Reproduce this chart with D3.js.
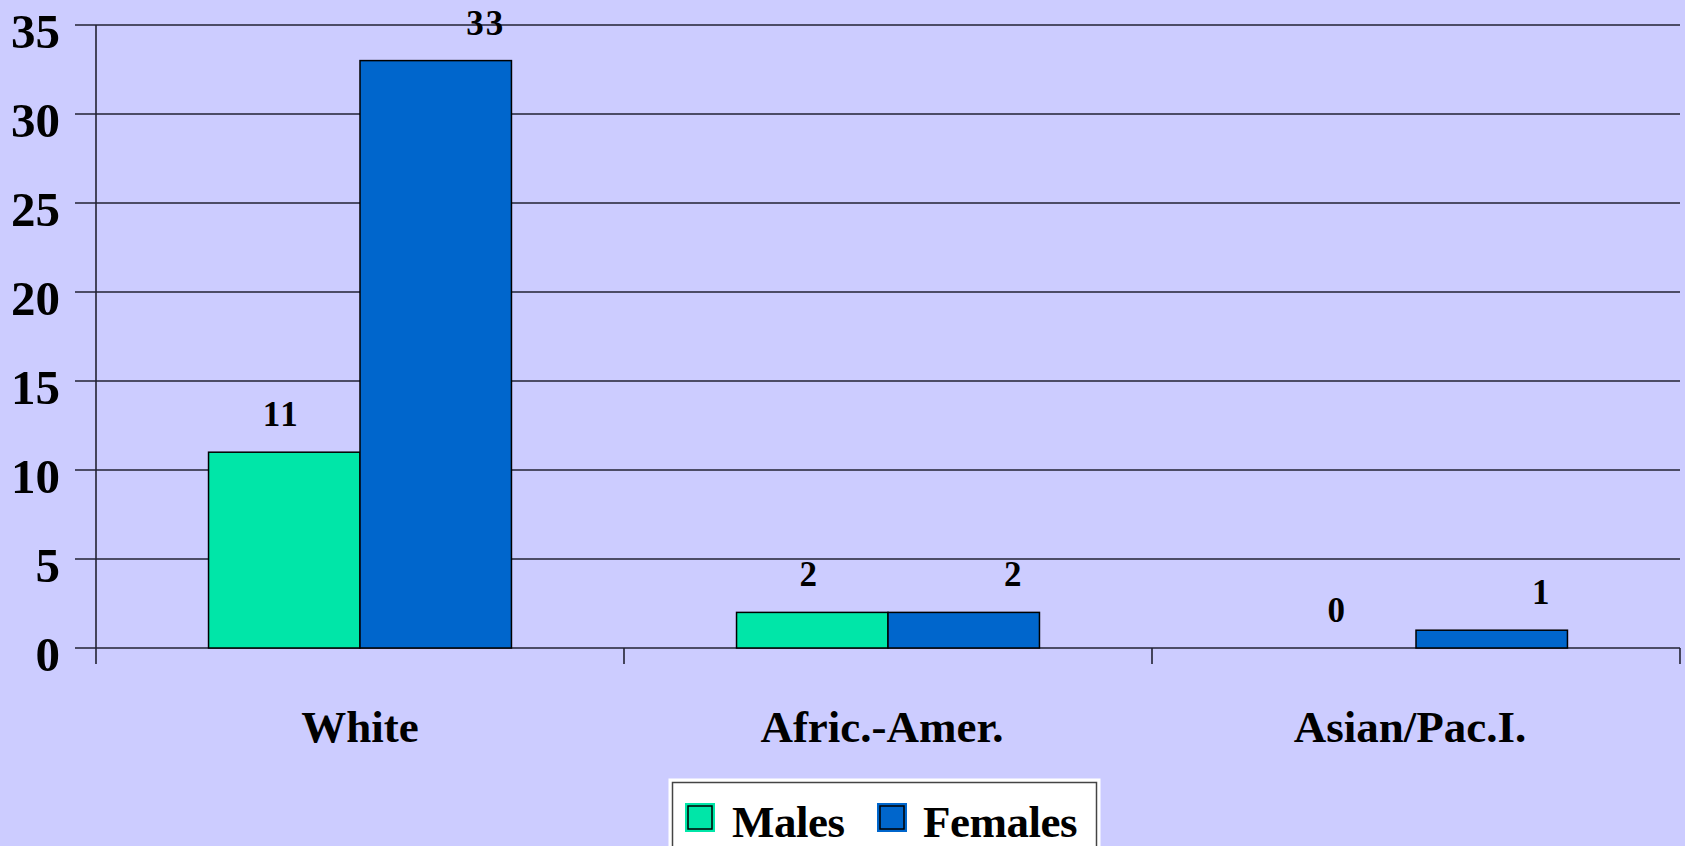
<!DOCTYPE html>
<html>
<head>
<meta charset="utf-8">
<script src="https://cdn.jsdelivr.net/npm/d3@7"></script>
<style>
  body { margin: 0; background: #CCCCFF; }
  svg { display: block; font-family: "Liberation Serif", "Times New Roman", serif; font-weight: bold; }
</style>
</head>
<body>
<svg id="mainContainer"></svg>
<script>
/* global d3 */

var categories = ["White", "Afric.-Amer.", "Asian/Pac.I."];
var seriesNames = ["Males", "Females"];
var males = [11, 2, 0];
var females = [33, 2, 1];
var yTicks = [0, 5, 10, 15, 20, 25, 30, 35];

var colors = { Males: "#00E6A8", Females: "#0066CC" };
// labels in the original sit a bit right of the female bars
var labelShift = { Males: -3, Females: 50 };

var svgWidth = 1685;
var svgHeight = 846;

var plotLeft = 96;
var plotRight = 1680;
var plotTop = 25;
var plotBottom = 648;

var svg = d3.select('#mainContainer')
    .attr('width', svgWidth)
    .attr('height', svgHeight);

svg.append('rect')
    .attr('width', svgWidth)
    .attr('height', svgHeight)
    .attr('fill', '#CCCCFF');

var x0 = d3.scaleBand()
    .domain(categories)
    .range([plotLeft, plotRight])
    .padding(0);

var x1 = d3.scaleBand()
    .domain(seriesNames)
    .range([0, x0.bandwidth()])
    .paddingInner(0)
    .paddingOuter(0.743);

var y = d3.scaleLinear()
    .domain([0, 35])
    .range([plotBottom, plotTop]);

// gridlines (extend left past the axis as ticks)
svg.append('g')
    .selectAll('line')
    .data(yTicks)
    .enter()
    .append('line')
    .attr('x1', plotLeft - 21)
    .attr('x2', plotRight)
    .attr('y1', function(d){ return y(d); })
    .attr('y2', function(d){ return y(d); })
    .attr('stroke', '#222233')
    .attr('stroke-width', 1.6);

// y tick labels
svg.append('g')
    .selectAll('text')
    .data(yTicks)
    .enter()
    .append('text')
    .attr('x', 60)
    .attr('y', function(d){ return y(d) + 23; })
    .attr('text-anchor', 'end')
    .attr('font-size', 49)
    .text(function(d){ return d; });

// y axis line
svg.append('line')
    .attr('x1', plotLeft).attr('x2', plotLeft)
    .attr('y1', plotTop).attr('y2', plotBottom + 16)
    .attr('stroke', '#222233')
    .attr('stroke-width', 1.6);

// x ticks at category boundaries
var boundaries = categories.map(function(c){ return x0(c); }).concat([plotRight]);
svg.append('g')
    .selectAll('line')
    .data(boundaries.slice(1))
    .enter()
    .append('line')
    .attr('x1', function(d){ return d; })
    .attr('x2', function(d){ return d; })
    .attr('y1', plotBottom)
    .attr('y2', plotBottom + 16)
    .attr('stroke', '#222233')
    .attr('stroke-width', 1.6);

var rows = categories.map(function(c, i){
    return { cat: c, values: [
        { name: 'Males', value: males[i] },
        { name: 'Females', value: females[i] }
    ] };
});

var groups = svg.append('g')
    .selectAll('g')
    .data(rows)
    .enter()
    .append('g')
    .attr('transform', function(d){ return 'translate(' + x0(d.cat) + ',0)'; });

groups.selectAll('rect')
    .data(function(d){ return d.values.filter(function(v){ return v.value > 0; }); })
    .enter()
    .append('rect')
    .attr('x', function(d){ return x1(d.name); })
    .attr('width', x1.bandwidth())
    .attr('y', function(d){ return y(d.value); })
    .attr('height', function(d){ return y(0) - y(d.value); })
    .attr('fill', function(d){ return colors[d.name]; })
    .attr('stroke', '#000')
    .attr('stroke-width', 1.5);

groups.selectAll('text')
    .data(function(d){ return d.values; })
    .enter()
    .append('text')
    .attr('x', function(d){ return x1(d.name) + x1.bandwidth() / 2 + labelShift[d.name]; })
    .attr('y', function(d){ return y(d.value) - 26; })
    .attr('text-anchor', 'middle')
    .attr('font-size', 35)
    .attr('letter-spacing', 2)
    .text(function(d){ return d.value; });

// category labels
svg.append('g')
    .selectAll('text')
    .data(categories)
    .enter()
    .append('text')
    .attr('x', function(d, i){ return x0(d) + x0.bandwidth() / 2 - (i === 0 ? 0 : 6); })
    .attr('y', 742)
    .attr('text-anchor', 'middle')
    .attr('font-size', 45)
    .text(function(d){ return d; });

// legend
var legend = svg.append('g');
legend.append('rect')
    .attr('x', 670.5).attr('y', 780.5)
    .attr('width', 428).attr('height', 80)
    .attr('fill', '#fff')
    .attr('stroke', '#fff')
    .attr('stroke-width', 4);
legend.append('rect')
    .attr('x', 672.5).attr('y', 782.5)
    .attr('width', 424).attr('height', 80)
    .attr('fill', '#fff')
    .attr('stroke', '#444')
    .attr('stroke-width', 1.5);

var legendItems = [
    { name: seriesNames[0], sx: 685, tx: 732 },
    { name: seriesNames[1], sx: 877, tx: 923 }
];
var items = legend.selectAll('g')
    .data(legendItems)
    .enter()
    .append('g');
items.append('rect')
    .attr('x', function(d){ return d.sx; })
    .attr('y', 803)
    .attr('width', 30).attr('height', 29)
    .attr('fill', function(d){ return colors[d.name]; });
items.append('rect')
    .attr('x', function(d){ return d.sx + 3; })
    .attr('y', 806)
    .attr('width', 24).attr('height', 23)
    .attr('fill', function(d){ return colors[d.name]; })
    .attr('stroke', '#000')
    .attr('stroke-width', 1.5);
items.append('text')
    .attr('x', function(d){ return d.tx; })
    .attr('y', 837)
    .attr('font-size', 45)
    .attr('letter-spacing', -0.5)
    .text(function(d){ return d.name; });
</script>
</body>
</html>
